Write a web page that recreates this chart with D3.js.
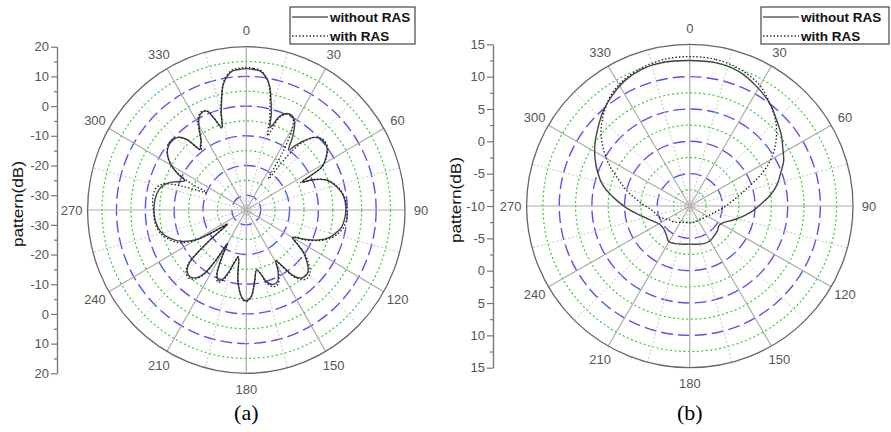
<!doctype html>
<html lang="en">
<head>
<meta charset="utf-8">
<title></title>
<script src="https://cdn.jsdelivr.net/npm/d3@7"></script>
<style type="text/css">
body { margin:0; background:#fff; }
text { font-family:"Liberation Sans", Arial, sans-serif; }
.tick text { fill:#555; font-size:13px; }
.tick line, .domain { stroke:#777; stroke-width:1.2; }
.angle { fill:#555; font-size:13px; }
.ylab { fill:#111; font-size:15px; }
.caption { font-family:"Liberation Serif", "Times New Roman", serif; font-size:22px; fill:#000; }
.leg { font-size:13.5px; font-weight:bold; fill:#111; }
.spoke { stroke:#aaa; stroke-width:1.2; }
.spoke2 { stroke:#c4c4c4; stroke-width:1; stroke-dasharray:2,2; }
.major { fill:none; stroke:#5555ee; stroke-width:1.4; stroke-dasharray:12,5; }
.minor { fill:none; stroke:#33cc33; stroke-width:1.2; stroke-dasharray:2,2.5; }
.outer { fill:none; stroke:#666; stroke-width:1.3; }
.without { fill:none; stroke:#444; stroke-width:1.4; }
.with { fill:none; stroke:#222; stroke-width:1.3; stroke-dasharray:1.5,2; }
</style>
</head>
<body>
<script type="text/javascript">

// (a) pattern, angle in degrees clockwise from top, value in dB
var anglesA = [0,3,6,9,11,13,15,16.5,18,20,23,27,30,33,36,38,40,44,48,53,57,61,64,66,70,76,82,88,94,100,104,108,112,116,120,123,126,130,134,138,141,144,147,149,152,156,160,164,167,170,173,176,178,180,182,184,187,190,193,196,199,202,205,208,210,212,214,217,221,225,228,231,234,237,240,245,250,256,263,270,277,283,287,290,293,295,297,300,304,308,312,316,319,322,324,326,329,332,335,338,340,343,345,347,349,351,354,357];
var withoutA = [12.6,12.4,12.0,10.0,7.5,3.0,-1.5,-6.0,-4.5,-1.5,0.3,0.4,-1.5,-5.5,-10.0,-7.5,-5.0,-1.0,0.4,0.0,-2.0,-5.0,-13.5,-10.0,-5.5,-2.7,-1.0,-0.5,-0.7,-1.5,-3.0,-4.8,-8.0,-12.5,-16.5,-14.0,-10.5,-7.5,-5.2,-4.8,-5.5,-8.0,-13.0,-15.0,-11.5,-8.5,-8.3,-10.0,-13.0,-14.5,-11.0,-6.5,-5.0,-4.4,-4.8,-6.5,-11.0,-19.0,-17.0,-13.5,-10.5,-9.5,-11.0,-17.0,-22.0,-15.0,-9.5,-6.5,-5.2,-6.0,-8.5,-18.0,-27.0,-22.0,-15.0,-10.0,-7.0,-4.5,-3.3,-3.0,-3.2,-4.0,-5.5,-7.5,-10.5,-11.5,-8.5,-5.0,-2.1,-0.6,-0.3,-1.0,-3.5,-9.0,-8.0,-7.0,-3.5,0.0,1.3,0.8,-2.0,-6.0,-1.5,3.0,7.5,10.0,12.0,12.4];
var withA = [13.0,12.8,12.3,10.0,7.0,1.5,-4.0,-9.0,-6.5,-2.0,0.0,0.3,-3.0,-12.0,-22.0,-12.0,-6.0,-1.0,0.6,0.3,-1.8,-5.0,-14.0,-10.0,-5.3,-2.5,-0.8,-0.2,0.0,-0.8,-2.2,-4.2,-7.5,-12.0,-16.5,-13.5,-10.0,-6.8,-4.3,-3.8,-4.8,-7.5,-12.5,-15.0,-11.0,-7.8,-7.5,-9.5,-13.0,-14.5,-11.0,-6.2,-4.8,-4.2,-4.6,-6.3,-11.0,-19.0,-17.0,-13.0,-10.0,-8.8,-10.5,-17.0,-22.0,-15.0,-9.0,-6.0,-4.6,-5.5,-8.0,-18.0,-27.0,-22.0,-14.5,-9.0,-6.3,-4.0,-3.0,-2.8,-2.3,-2.8,-5.0,-12.0,-20.0,-14.0,-9.0,-5.0,-2.0,-0.4,0.0,-1.0,-3.5,-9.5,-8.5,-7.0,-3.0,0.5,1.6,1.0,-1.8,-6.2,-1.0,3.5,7.8,10.4,12.4,12.8];

// (b) pattern
var anglesB = [0,10,20,30,38,45,52,58,64,70,76,82,88,94,100,108,116,124,132,140,150,160,170,180,190,200,210,218,226,234,242,250,258,266,272,278,284,290,297,304,311,318,325,333,341,350];
var withoutB = [12.5,12.5,12.1,11.0,10.0,8.8,7.8,6.8,6.0,4.8,3.8,2.5,1.0,-0.2,-1.5,-3.0,-4.2,-4.6,-4.3,-4.1,-3.8,-3.8,-4.0,-4.1,-4.0,-3.8,-3.6,-4.2,-4.6,-4.7,-4.4,-3.6,-2.5,-0.8,0.6,2.2,3.8,5.0,6.3,7.5,8.6,9.8,10.8,11.8,12.4,12.6];
var withB = [13.1,13.0,12.5,11.5,10.0,8.6,6.8,5.0,2.8,0.2,-1.8,-3.2,-4.2,-5.0,-5.7,-6.3,-6.7,-7.0,-7.2,-7.3,-7.4,-7.4,-7.4,-7.4,-7.4,-7.3,-7.1,-6.8,-6.5,-6.3,-5.8,-5.0,-4.6,-3.9,-2.8,-1.6,0.0,1.5,3.8,6.0,8.0,9.6,11.0,12.0,12.6,13.0];

var angleLabels = [0,30,60,90,120,150,180,210,240,270,300,330];
var majorA = [-30,-20,-10,0,10,20];
var minorA = [-25,-15,-5,5,15];
var majorB = [-10,-5,0,5,10,15];
var minorB = [-7.5,-2.5,2.5,7.5,12.5];
var seriesNames = ["without RAS","with RAS"];

var svg = d3.select("body").append("svg")
  .attr("width", 891).attr("height", 432);

function polar(o) {
  var g = svg.append("g");
  var kx = o.rx / o.ry;
  var r = d3.scaleLinear().domain(o.domain).range([0, o.ry]);
  var rad = a => a * Math.PI / 180;
  var px = (a, v) => o.cx + r(v) * kx * Math.sin(rad(a));
  var py = (a, v) => o.cy - r(v) * Math.cos(rad(a));

  // grid circles
  g.selectAll(".minor").data(o.minor).enter().append("ellipse")
    .attr("class", "minor").attr("cx", o.cx).attr("cy", o.cy)
    .attr("rx", d => r(d) * kx).attr("ry", d => r(d));
  g.selectAll(".major").data(o.major.filter(d => d > o.domain[0] && d < o.domain[1])).enter().append("ellipse")
    .attr("class", "major").attr("cx", o.cx).attr("cy", o.cy)
    .attr("rx", d => r(d) * kx).attr("ry", d => r(d));

  // spokes
  var spokes = d3.range(0, 360, 15);
  g.selectAll(".sp").data(spokes).enter().append("line")
    .attr("class", d => d % 30 == 0 ? "spoke" : "spoke2")
    .attr("x1", o.cx).attr("y1", o.cy)
    .attr("x2", d => px(d, o.domain[1])).attr("y2", d => py(d, o.domain[1]));

  g.append("ellipse").attr("class", "outer")
    .attr("cx", o.cx).attr("cy", o.cy).attr("rx", o.rx).attr("ry", o.ry);

  // angle labels
  g.selectAll(".angle").data(angleLabels).enter().append("text")
    .attr("class", "angle")
    .attr("x", d => o.cx + (o.rx + 16) * Math.sin(rad(d)))
    .attr("y", d => o.cy - (o.ry + 16) * Math.cos(rad(d)))
    .attr("dy", "0.35em").attr("text-anchor", "middle")
    .text(d => d);

  // curves
  var line = d3.line()
    .x(d => px(d[0], d[1]))
    .y(d => py(d[0], d[1]))
    .curve(d3.curveCatmullRomClosed.alpha(0.5));
  g.append("path").attr("class", "without").attr("d", line(d3.zip(o.angles, o.without)));
  g.append("path").attr("class", "with").attr("d", line(d3.zip(o.angles, o.with)));

  // radial axis, mirrored above and below centre
  var yTop = d3.scaleLinear().domain(o.domain).range([o.cy, o.cy - o.ry]);
  var yBot = d3.scaleLinear().domain(o.domain).range([o.cy, o.cy + o.ry]);
  var topTicks = o.major.filter(d => d >= o.domain[0]);
  var botTicks = o.major.filter(d => d > o.domain[0]);
  var fmt = d => String(d);
  g.append("g").attr("transform", "translate(" + o.axisX + ",0)")
    .call(d3.axisLeft(yTop).tickValues(topTicks).tickFormat(fmt).tickSize(6).tickPadding(2).tickSizeOuter(0));
  g.append("g").attr("transform", "translate(" + o.axisX + ",0)")
    .call(d3.axisLeft(yBot).tickValues(botTicks).tickFormat(fmt).tickSize(6).tickPadding(2).tickSizeOuter(0));
  g.append("g").attr("transform", "translate(" + o.axisX + ",0)")
    .call(d3.axisLeft(yTop).tickValues(o.minor).tickSize(3).tickFormat("").tickSizeOuter(0));
  g.append("g").attr("transform", "translate(" + o.axisX + ",0)")
    .call(d3.axisLeft(yBot).tickValues(o.minor).tickSize(3).tickFormat("").tickSizeOuter(0));

  g.append("text").attr("class", "ylab")
    .attr("transform", "translate(" + o.labX + "," + (o.cy - 6) + ") rotate(-90)")
    .attr("text-anchor", "middle").attr("dy", "0.35em")
    .attr("textLength", 86).attr("lengthAdjust", "spacingAndGlyphs")
    .text("pattern(dB)");

  // legend
  var lg = g.append("g").attr("transform", "translate(" + o.legX + ",7)");
  lg.append("rect").attr("width", o.legW).attr("height", 37)
    .attr("fill", "#fff").attr("stroke", "#444").attr("stroke-width", 1.2);
  lg.append("line").attr("x1", 2).attr("x2", 38).attr("y1", 10).attr("y2", 10)
    .attr("stroke", "#888").attr("stroke-width", 2);
  lg.append("line").attr("x1", 2).attr("x2", 38).attr("y1", 29).attr("y2", 29)
    .attr("stroke", "#333").attr("stroke-width", 1.3).attr("stroke-dasharray", "1.5,2");
  lg.selectAll(".leg").data(seriesNames).enter().append("text")
    .attr("class", "leg").attr("x", 40).attr("y", (d, i) => 15 + i * 19)
    .text(d => d);

  g.append("text").attr("class", "caption")
    .attr("x", o.cx).attr("y", 420).attr("text-anchor", "middle")
    .text(o.caption);
}

polar({cx:246.3, cy:210, rx:158.7, ry:163.3, domain:[-35,20], major:majorA, minor:minorA,
  angles:anglesA, without:withoutA, with:withA, axisX:57, labX:18,
  legX:290, legW:125, caption:"(a)"});

polar({cx:689.8, cy:206, rx:163.2, ry:161.7, domain:[-10,15], major:majorB, minor:minorB,
  angles:anglesB, without:withoutB, with:withB, axisX:493, labX:456,
  legX:761, legW:128, caption:"(b)"});

</script>
</body>
</html>
